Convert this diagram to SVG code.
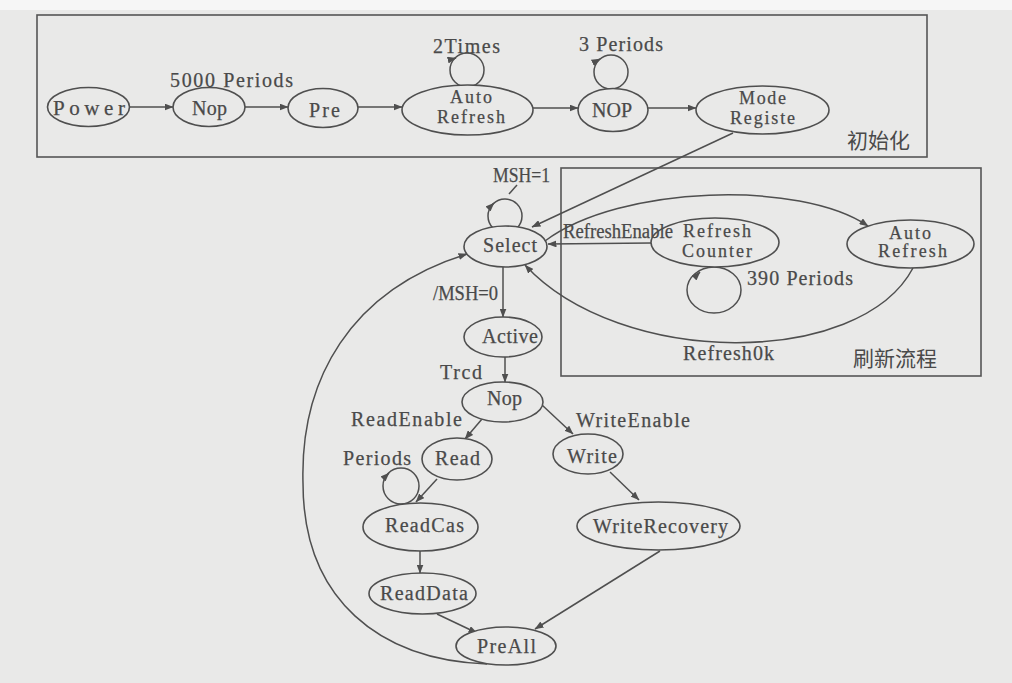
<svg xmlns="http://www.w3.org/2000/svg" width="1012" height="683" viewBox="0 0 1012 683">
<defs>
<marker id="arr" markerUnits="userSpaceOnUse" markerWidth="9" markerHeight="7" refX="8.5" refY="3.5" orient="auto">
<path d="M0,0 L9,3.5 L0,7 z" fill="#4f4f4f"/>
</marker>
</defs>
<style>
.bg{fill:#e9e9e8}
.box{fill:none;stroke:#555;stroke-width:1.6}
.n ellipse{fill:#e9e9e8;stroke:#4f4f4f;stroke-width:1.6}
text{font-family:'Liberation Serif','DejaVu Serif',serif;font-size:20px;fill:#4a4a4a;stroke:#4a4a4a;stroke-width:0.25}
.sm{font-size:18px}
.lg{font-size:21px}
.cjk{font-family:'Noto Sans CJK SC',sans-serif;font-size:21px;stroke:none}
.c path,.c line,.c circle,.c ellipse{fill:none;stroke:#4f4f4f;stroke-width:1.5}
.a{marker-end:url(#arr)}
</style>
<rect x="0" y="0" width="1012" height="683" fill="#f6f6f6"/>
<rect class="bg" x="0" y="10" width="1012" height="673"/>

<g id="frames">
<rect class="box" x="37" y="15" width="890" height="142"/>
<rect class="box" x="561" y="168" width="420" height="208"/>
<text class="cjk" x="847" y="148">初始化</text>
<text class="cjk" x="853" y="366">刷新流程</text>
</g>

<g id="connectors" class="c">
<line class="a" x1="130" y1="107" x2="173" y2="107"/>
<line class="a" x1="245" y1="107" x2="288" y2="107"/>
<line class="a" x1="358" y1="107" x2="402" y2="107"/>
<line class="a" x1="533" y1="108" x2="578" y2="108"/>
<line class="a" x1="648" y1="108" x2="696" y2="108"/>
<circle cx="467" cy="70" r="17"/>
<path class="a" d="M452,59 L456,58"/>
<circle cx="611" cy="72" r="17"/>
<path class="a" d="M596,61 L600,59"/>
<line class="a" x1="733" y1="133" x2="532" y2="227"/>
<circle cx="505" cy="216" r="17"/>
<path class="a" d="M491,206 L494,203"/>
<line x1="517" y1="185" x2="509" y2="194"/>
<line class="a" x1="651" y1="243" x2="548" y2="244"/>
<path class="a" d="M545,241 C620,185 800,180 868,226"/>
<path class="a" d="M913,268 C860,368 620,368 525,265"/>
<ellipse cx="714" cy="290" rx="27" ry="23"/>
<path class="a" d="M697,275 L700,272"/>
<line class="a" x1="503" y1="267" x2="503" y2="317"/>
<line class="a" x1="505" y1="357" x2="505" y2="382"/>
<line class="a" x1="482" y1="419" x2="465" y2="439"/>
<line class="a" x1="542" y1="405" x2="573" y2="434"/>
<line class="a" x1="437" y1="479" x2="416" y2="502"/>
<line class="a" x1="610" y1="472" x2="639" y2="500"/>
<circle cx="401" cy="486" r="18"/>
<path class="a" d="M386,476 L389,473"/>
<line class="a" x1="420" y1="551" x2="420" y2="573"/>
<line class="a" x1="437" y1="614" x2="477" y2="633"/>
<line class="a" x1="660" y1="551" x2="535" y2="629"/>
<path class="a" d="M487,664 C380,660 303,600 303,483 C300,380 350,290 467,254"/>
</g>

<g id="power" class="n"><ellipse cx="88.5" cy="107" rx="41" ry="19.5"/><text class="lg" x="53" y="115" textLength="72">Power</text></g>
<g id="nop_init" class="n"><ellipse cx="209" cy="107" rx="36" ry="19.5"/><text x="192" y="115" textLength="35">Nop</text></g>
<g id="pre" class="n"><ellipse cx="323" cy="108" rx="35" ry="19.5"/><text x="309" y="117" textLength="31">Pre</text></g>
<g id="auto_refresh_init" class="n"><ellipse cx="467.5" cy="110" rx="65.5" ry="25"/><text class="sm" x="450" y="103" textLength="42">Auto</text><text class="sm" x="437" y="123" textLength="68">Refresh</text></g>
<g id="nop_3" class="n"><ellipse cx="613" cy="110" rx="35" ry="21.5"/><text x="592" y="117" textLength="40">NOP</text></g>
<g id="mode_registe" class="n"><ellipse cx="762.5" cy="110" rx="66.5" ry="24"/><text class="sm" x="739" y="104" textLength="47">Mode</text><text class="sm" x="730" y="124" textLength="65">Registe</text></g>
<g id="select" class="n"><ellipse cx="505.5" cy="246.5" rx="41.5" ry="20.5"/><text x="483" y="252" textLength="54">Select</text></g>
<g id="refresh_counter" class="n"><ellipse cx="715" cy="242.5" rx="64" ry="24.5"/><text class="sm" x="683" y="237" textLength="68">Refresh</text><text class="sm" x="682" y="257" textLength="70">Counter</text></g>
<g id="auto_refresh" class="n"><ellipse cx="910.5" cy="244" rx="63.5" ry="24"/><text class="sm" x="889" y="239" textLength="42">Auto</text><text class="sm" x="878" y="257" textLength="69">Refresh</text></g>
<g id="active" class="n"><ellipse cx="503" cy="337" rx="39" ry="20"/><text x="482" y="343" textLength="56">Active</text></g>
<g id="nop" class="n"><ellipse cx="502.5" cy="402" rx="40.5" ry="20"/><text x="487" y="405" textLength="35">Nop</text></g>
<g id="read" class="n"><ellipse cx="457" cy="459" rx="35" ry="21"/><text x="435" y="465" textLength="45">Read</text></g>
<g id="write" class="n"><ellipse cx="588" cy="454" rx="35" ry="20"/><text x="567" y="463" textLength="50">Write</text></g>
<g id="readcas" class="n"><ellipse cx="420.5" cy="527" rx="57.5" ry="24"/><text x="385" y="532" textLength="79">ReadCas</text></g>
<g id="writerecovery" class="n"><ellipse cx="658.5" cy="526" rx="81.5" ry="24"/><text x="593" y="533" textLength="135">WriteRecovery</text></g>
<g id="readdata" class="n"><ellipse cx="422.5" cy="593.5" rx="53.5" ry="20.5"/><text x="380" y="600" textLength="88">ReadData</text></g>
<g id="preall" class="n"><ellipse cx="506" cy="646" rx="50" ry="19"/><text x="477" y="653" textLength="59">PreAll</text></g>

<g id="labels">
<text x="170" y="87" textLength="123">5000 Periods</text>
<text x="433" y="53" textLength="67">2Times</text>
<text x="579" y="51" textLength="84">3 Periods</text>
<text x="493" y="182" textLength="57" lengthAdjust="spacingAndGlyphs">MSH=1</text>
<text x="433" y="300" textLength="65" lengthAdjust="spacingAndGlyphs">/MSH=0</text>
<text x="563" y="238" textLength="110" lengthAdjust="spacingAndGlyphs">RefreshEnable</text>
<text x="747" y="285" textLength="106">390 Periods</text>
<text x="683" y="360" textLength="91">Refresh0k</text>
<text x="440" y="379" textLength="42">Trcd</text>
<text x="351" y="426" textLength="111">ReadEnable</text>
<text x="576" y="427" textLength="114">WriteEnable</text>
<text x="343" y="465" textLength="68">Periods</text>
</g>
</svg>
